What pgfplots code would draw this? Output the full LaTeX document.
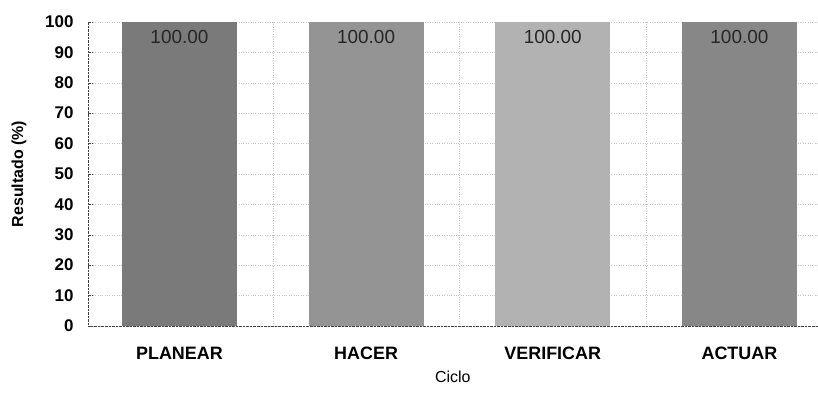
\documentclass[border=0pt]{standalone}
\usepackage{pgfplots}
\pgfplotsset{compat=1.18}
\usepackage{fontspec}
\setmainfont{Liberation Sans}

\definecolor{planear}{gray}{0.48}
\definecolor{hacer}{gray}{0.58}
\definecolor{verificar}{gray}{0.70}
\definecolor{actuar}{gray}{0.53}

\begin{document}
\begin{tikzpicture}
\begin{axis}[
  scale only axis,
  width=730bp, height=304bp,
  xmin=-0.49, xmax=3.42,
  ymin=0, ymax=100,
  ytick={0,10,...,100},
  xtick={0,1,2,3},
  xticklabels={PLANEAR,HACER,VERIFICAR,ACTUAR},
  minor xtick={0.5,1.5,2.5},
  xminorgrids, ymajorgrids,
  major grid style={dotted,black!22},
  minor grid style={dotted,black!22},
  axis x line*=bottom, axis y line*=left,
  axis line style={densely dotted,black!75},
  x tick style={draw=none},
  y tick style={black!75,densely dotted},
  major tick length=4bp,
  tick label style={font=\fontsize{17}{19}\selectfont\bfseries},
  yticklabel style={xshift=-11bp},
  xticklabel style={font=\fontsize{18}{21}\selectfont\bfseries,yshift=-14bp},
  /pgf/number format/assume math mode=true,
  xlabel={Ciclo},
  xlabel style={font=\fontsize{16}{18}\selectfont,yshift=-4bp},
  ylabel={Resultado (\%)},
  ylabel style={font=\fontsize{16}{18}\selectfont\bfseries,yshift=12bp},
  ybar, bar width=115bp, bar shift=0pt,
  nodes near coords={\pgfmathprintnumber[fixed,fixed zerofill,precision=2]{\pgfplotspointmeta}},
  every node near coord/.append style={anchor=north,yshift=-5bp,
    font=\fontsize{19}{21}\selectfont,text=black!85},
]
\addplot[fill=planear,draw=none] coordinates {(0,100)};
\addplot[fill=hacer,draw=none] coordinates {(1,100)};
\addplot[fill=verificar,draw=none] coordinates {(2,100)};
\addplot[fill=actuar,draw=none] coordinates {(3,100)};
\coordinate (o) at (rel axis cs:0,0);
\end{axis}
\path (o) ++(-88bp,-80bp) rectangle ++(818bp,406bp);
\end{tikzpicture}
\end{document}
